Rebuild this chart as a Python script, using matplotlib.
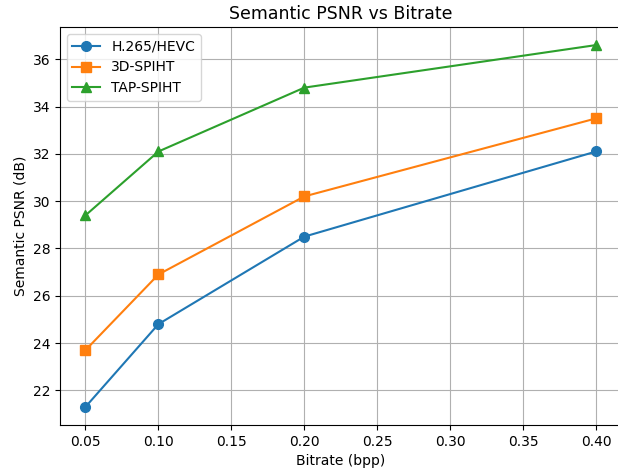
import matplotlib
matplotlib.use("Agg")
import matplotlib.pyplot as plt

bitrate = [0.05, 0.10, 0.20, 0.40]
hevc = [21.3, 24.8, 28.5, 32.1]
spiht3d = [23.7, 26.9, 30.2, 33.5]
tap = [29.4, 32.1, 34.8, 36.6]

fig, ax = plt.subplots(figsize=(6.18, 4.73), dpi=100)
ax.plot(bitrate, hevc, marker='o', markersize=7, label='H.265/HEVC')
ax.plot(bitrate, spiht3d, marker='s', markersize=7, label='3D-SPIHT')
ax.plot(bitrate, tap, marker='^', markersize=7, label='TAP-SPIHT')
ax.set_xlabel('Bitrate (bpp)')
ax.set_ylabel('Semantic PSNR (dB)')
ax.set_title('Semantic PSNR vs Bitrate', fontsize=12.5)
ax.grid(True)
ax.legend(loc='upper left')
fig.subplots_adjust(left=0.097, right=1.006, top=0.943, bottom=0.1015)
fig.savefig('out.png', dpi=100)
